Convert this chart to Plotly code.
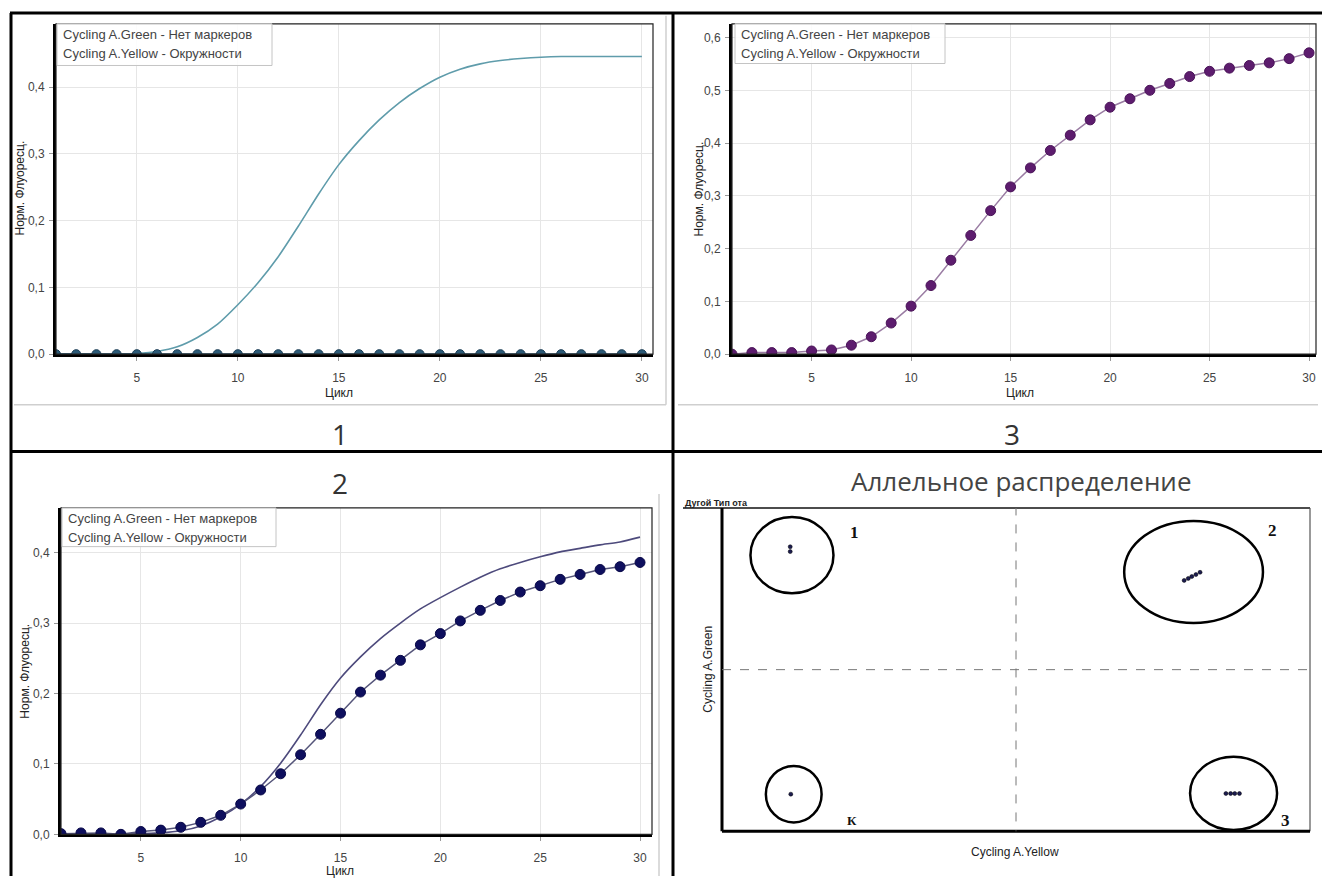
import plotly.graph_objects as go

W, H = 1322, 883

# ---------------- data ----------------
cycles = [1, 2, 3, 4, 5, 6, 7, 8, 9, 10, 11, 12, 13, 14, 15,
          16, 17, 18, 19, 20, 21, 22, 23, 24, 25, 26, 27, 28, 29, 30]

# panel 1
p1_green = [0.0, 0.0, 0.0, 0.0, 0.001, 0.004, 0.011, 0.025, 0.045, 0.074,
            0.107, 0.146, 0.192, 0.240, 0.284, 0.320, 0.351, 0.377, 0.398, 0.415,
            0.427, 0.435, 0.440, 0.443, 0.445, 0.446, 0.446, 0.446, 0.446, 0.446]
p1_yellow = [0.0, 0.0, 0.0, 0.0, 0.0, 0.0, 0.0, 0.0, 0.0, 0.0,
             0.0, 0.0, 0.0, 0.0, 0.0, 0.0, 0.0, 0.0, 0.0, 0.0,
             0.0, 0.0, 0.0, 0.0, 0.0, 0.0, 0.0, 0.0, 0.0, 0.0]

# panel 3
p3_yellow = [0.0, 0.003, 0.003, 0.003, 0.006, 0.008, 0.017, 0.033, 0.059, 0.091,
             0.130, 0.178, 0.225, 0.272, 0.317, 0.353, 0.386, 0.415, 0.444, 0.468,
             0.484, 0.500, 0.513, 0.526, 0.536, 0.542, 0.547, 0.552, 0.560, 0.571]

# panel 2
p2_green = [0.0, 0.0, 0.0, 0.0, 0.001, 0.002, 0.005, 0.012, 0.025, 0.043,
            0.068, 0.101, 0.141, 0.184, 0.222, 0.252, 0.278, 0.300, 0.320, 0.336,
            0.351, 0.365, 0.377, 0.386, 0.394, 0.401, 0.406, 0.411, 0.415, 0.422]
p2_yellow = [0.001, 0.002, 0.002, 0.0, 0.004, 0.006, 0.010, 0.017, 0.027, 0.043,
             0.063, 0.086, 0.113, 0.142, 0.172, 0.202, 0.226, 0.247, 0.269, 0.285,
             0.303, 0.318, 0.332, 0.344, 0.353, 0.362, 0.369, 0.376, 0.380, 0.386]

x_ticks = [5, 10, 15, 20, 25, 30]
y_ticks_04 = [0.0, 0.1, 0.2, 0.3, 0.4]
y_ticks_06 = [0.0, 0.1, 0.2, 0.3, 0.4, 0.5, 0.6]

legend_lines = ["Cycling A.Green - Нет маркеров", "Cycling A.Yellow - Окружности"]

# panel 4 (allelic discrimination), normalised axes 0..1
cl1_x = [0.116, 0.116]
cl1_y = [0.880, 0.865]
cl2_x = [0.786, 0.793, 0.799, 0.806, 0.813]
cl2_y = [0.776, 0.782, 0.788, 0.794, 0.801]
clK_x = [0.117]
clK_y = [0.115]
cl3_x = [0.857, 0.865, 0.872, 0.880]
cl3_y = [0.117, 0.117, 0.117, 0.117]

ell_names = ["1", "2", "К", "3"]
ell_cx = [0.119, 0.802, 0.122, 0.870]
ell_cy = [0.854, 0.802, 0.115, 0.1175]
ell_rx = [0.0706, 0.118, 0.0474, 0.074]
ell_ry = [0.118, 0.158, 0.0874, 0.1135]
lab_x = [0.226, 0.937, 0.221, 0.959]
lab_y = [0.923, 0.929, 0.034, 0.034]
threshold = 0.5

# ---------------- helpers ----------------
def fx(px):
    return px / W

def fy(py):
    return 1 - py / H

FONT = "Liberation Sans, Arial, sans-serif"

fig = go.Figure()

# panel 1
fig.add_trace(go.Scatter(x=cycles, y=p1_green, mode="lines", line=dict(color="#5f9cab", width=1.6, shape="spline", smoothing=0.6),
                         xaxis="x", yaxis="y", showlegend=False))
fig.add_trace(go.Scatter(x=cycles, y=p1_yellow, mode="lines+markers", line=dict(color="#24506b", width=2),
                         marker=dict(color="#2c5b78", size=9, line=dict(color="#1b3d55", width=1)),
                         xaxis="x", yaxis="y", showlegend=False))
# panel 3
fig.add_trace(go.Scatter(x=cycles, y=p3_yellow, mode="lines+markers", line=dict(color="#9a7ca3", width=1.5),
                         marker=dict(color="#5d1c6e", size=10, line=dict(color="#4a1458", width=1)),
                         xaxis="x2", yaxis="y2", showlegend=False))
# panel 2
fig.add_trace(go.Scatter(x=cycles, y=p2_green, mode="lines", line=dict(color="#4d4a7c", width=1.6, shape="spline", smoothing=0.6),
                         xaxis="x3", yaxis="y3", showlegend=False))
fig.add_trace(go.Scatter(x=cycles, y=p2_yellow, mode="lines+markers", line=dict(color="#55557a", width=1.5),
                         marker=dict(color="#0e0f5e", size=10, line=dict(color="#080848", width=1)),
                         xaxis="x3", yaxis="y3", showlegend=False))
# panel 4 clusters
for cx_, cy_ in [(cl1_x, cl1_y), (cl2_x, cl2_y), (clK_x, clK_y), (cl3_x, cl3_y)]:
    fig.add_trace(go.Scatter(x=cx_, y=cy_, mode="markers",
                             marker=dict(color="#1c1c50", size=4, line=dict(color="#000", width=0.5)),
                             xaxis="x4", yaxis="y4", showlegend=False))

# ---------------- axes ----------------
def xax(domain, rng):
    return dict(domain=domain, range=rng, tickvals=x_ticks, showgrid=True, gridcolor="#e6e6e6", gridwidth=1,
                showline=True, linecolor="black", linewidth=3, ticks="outside", ticklen=4, tickcolor="#999",
                tickfont=dict(size=12, color="#444", family=FONT), zeroline=False, ticklabelstandoff=6)

def yax(domain, rng, ticks, anchor):
    return dict(domain=domain, range=rng, tickvals=ticks, tickformat=".1f", showgrid=True, gridcolor="#e6e6e6",
                gridwidth=1, showline=True, linecolor="black", linewidth=3, ticks="outside", ticklen=4,
                tickcolor="#999", tickfont=dict(size=12, color="#444", family=FONT), zeroline=False,
                anchor=anchor, ticklabelstandoff=2)

x1 = xax([fx(56), fx(653)], [1, 30.55]); x1["anchor"] = "y"
y1 = yax([fy(357), fy(24)], [0, 0.495], y_ticks_04, "x")
x2 = xax([fx(732), fx(1316)], [1, 30.35]); x2["anchor"] = "y2"
y2 = yax([fy(357), fy(24)], [0, 0.626], y_ticks_06, "x2")
x3 = xax([fx(61), fx(652)], [1, 30.6]); x3["anchor"] = "y3"
y3 = yax([fy(841), fy(512)], [0, 0.4634], y_ticks_04, "x3")
x4 = dict(domain=[fx(722), fx(1310)], range=[0, 1], showgrid=False, showline=False, showticklabels=False,
          zeroline=False, anchor="y4", ticks="")
y4 = dict(domain=[fy(838), fy(512)], range=[0, 1], showgrid=False, showline=False, showticklabels=False,
          zeroline=False, anchor="x4", ticks="")

shapes = []
annotations = []

def note(px, py, text, size=12, color="#222", family=FONT, angle=0, xa="center", ya="middle"):
    annotations.append(dict(xref="paper", yref="paper", x=fx(px), y=fy(py), text=text, textangle=angle,
                            showarrow=False, xanchor=xa, yanchor=ya,
                            font=dict(size=size, color=color, family=family)))

# panel borders
for (a, b, c, d) in [(10, 13, 1322, 13), (11, 13, 11, 883), (673, 13, 673, 883), (10, 455, 1322, 455)]:
    shapes.append(dict(type="line", xref="paper", yref="paper", x0=fx(a), y0=fy(b), x1=fx(c), y1=fy(d),
                       line=dict(color="black", width=3)))
# light panel frames
for (a, b, c, d) in [(14, 408, 666, 408), (666, 16, 666, 408), (678, 408, 1318, 408), (659, 498, 659, 883)]:
    shapes.append(dict(type="line", xref="paper", yref="paper", x0=fx(a), y0=fy(b), x1=fx(c), y1=fy(d),
                       line=dict(color="#cfcfcf", width=1.5)))

# thin top/right frame of plots
for xr, yr in [("x", "y"), ("x2", "y2"), ("x3", "y3")]:
    shapes.append(dict(type="rect", xref=xr + " domain", yref=yr + " domain", x0=0, y0=0, x1=1, y1=1,
                       line=dict(color="#222", width=1.2), layer="above"))

# legend boxes
for (bx0, by0, bx1, by1) in [(57, 24, 272, 66), (735, 24, 945, 64), (62, 512, 276, 551)]:
    shapes.append(dict(type="rect", xref="paper", yref="paper", x0=fx(bx0), y0=fy(by1), x1=fx(bx1), y1=fy(by0),
                       line=dict(color="#c4c4c4", width=1), fillcolor="rgba(255,255,255,0.85)", layer="above"))
    for i, t in enumerate(legend_lines):
        note(bx0 + 4, by0 + 11 + i * 19, t, size=13, color="#444", xa="left")

# axis titles for curve panels
for (tx, ty) in [(20, 190), (699, 190), (25, 677)]:
    note(tx, ty, "Норм. Флуоресц.", angle=-90)
for (tx, ty) in [(339, 396), (1020, 396), (340, 878)]:
    note(tx, ty, "Цикл")

# panel numbers
for (t, tx, ty) in [("1", 340, 437), ("3", 1012, 437), ("2", 340, 487)]:
    note(tx, ty, t, size=28, color="#333", family="Open Sans, sans-serif")

# ---------------- panel 4 decorations ----------------
note(1021, 485, "Аллельное распределение", size=26, color="#444", family="Open Sans, sans-serif")
note(708, 675, "Cycling A.Green", angle=-90)
note(1015, 859, "Cycling A.Yellow")
note(683, 507, "<b>Дугой Тип ота</b>", size=9, color="#222", xa="left")

# plot frame for panel 4
shapes.append(dict(type="line", xref="paper", yref="paper", x0=fx(683), y0=fy(512), x1=fx(1310), y1=fy(512),
                   line=dict(color="#111", width=1.5)))
shapes.append(dict(type="line", xref="x4 domain", yref="y4 domain", x0=1, y0=0, x1=1, y1=1,
                   line=dict(color="#555", width=1.2)))
shapes.append(dict(type="line", xref="x4 domain", yref="y4 domain", x0=0, y0=0, x1=0, y1=1,
                   line=dict(color="black", width=3)))
shapes.append(dict(type="line", xref="x4 domain", yref="y4 domain", x0=0, y0=0, x1=1, y1=0,
                   line=dict(color="black", width=3)))
# threshold dashed lines
shapes.append(dict(type="line", xref="x4", yref="y4", x0=threshold, y0=-0.025, x1=threshold, y1=1,
                   line=dict(color="#777", width=1, dash="dash")))
shapes.append(dict(type="line", xref="x4", yref="y4", x0=0, y0=threshold, x1=1, y1=threshold,
                   line=dict(color="#777", width=1, dash="dash")))
# cluster ellipses and labels
for n, cx_, cy_, rx_, ry_, lx, ly in zip(ell_names, ell_cx, ell_cy, ell_rx, ell_ry, lab_x, lab_y):
    shapes.append(dict(type="circle", xref="x4", yref="y4", x0=cx_ - rx_, x1=cx_ + rx_, y0=cy_ - ry_, y1=cy_ + ry_,
                       line=dict(color="black", width=2.5)))
    annotations.append(dict(xref="x4", yref="y4", x=lx, y=ly, text="<b>" + n + "</b>", showarrow=False,
                            xanchor="center", yanchor="middle",
                            font=dict(size=17 if n != "К" else 13, color="#111",
                                      family="Liberation Serif, Times New Roman, serif")))

fig.update_layout(
    width=W, height=H, margin=dict(l=0, r=0, t=0, b=0),
    paper_bgcolor="white", plot_bgcolor="white",
    separators=",.",
    xaxis=x1, yaxis=y1, xaxis2=x2, yaxis2=y2, xaxis3=x3, yaxis3=y3, xaxis4=x4, yaxis4=y4,
    shapes=shapes, annotations=annotations, showlegend=False,
)

fig.write_html("out.html")
